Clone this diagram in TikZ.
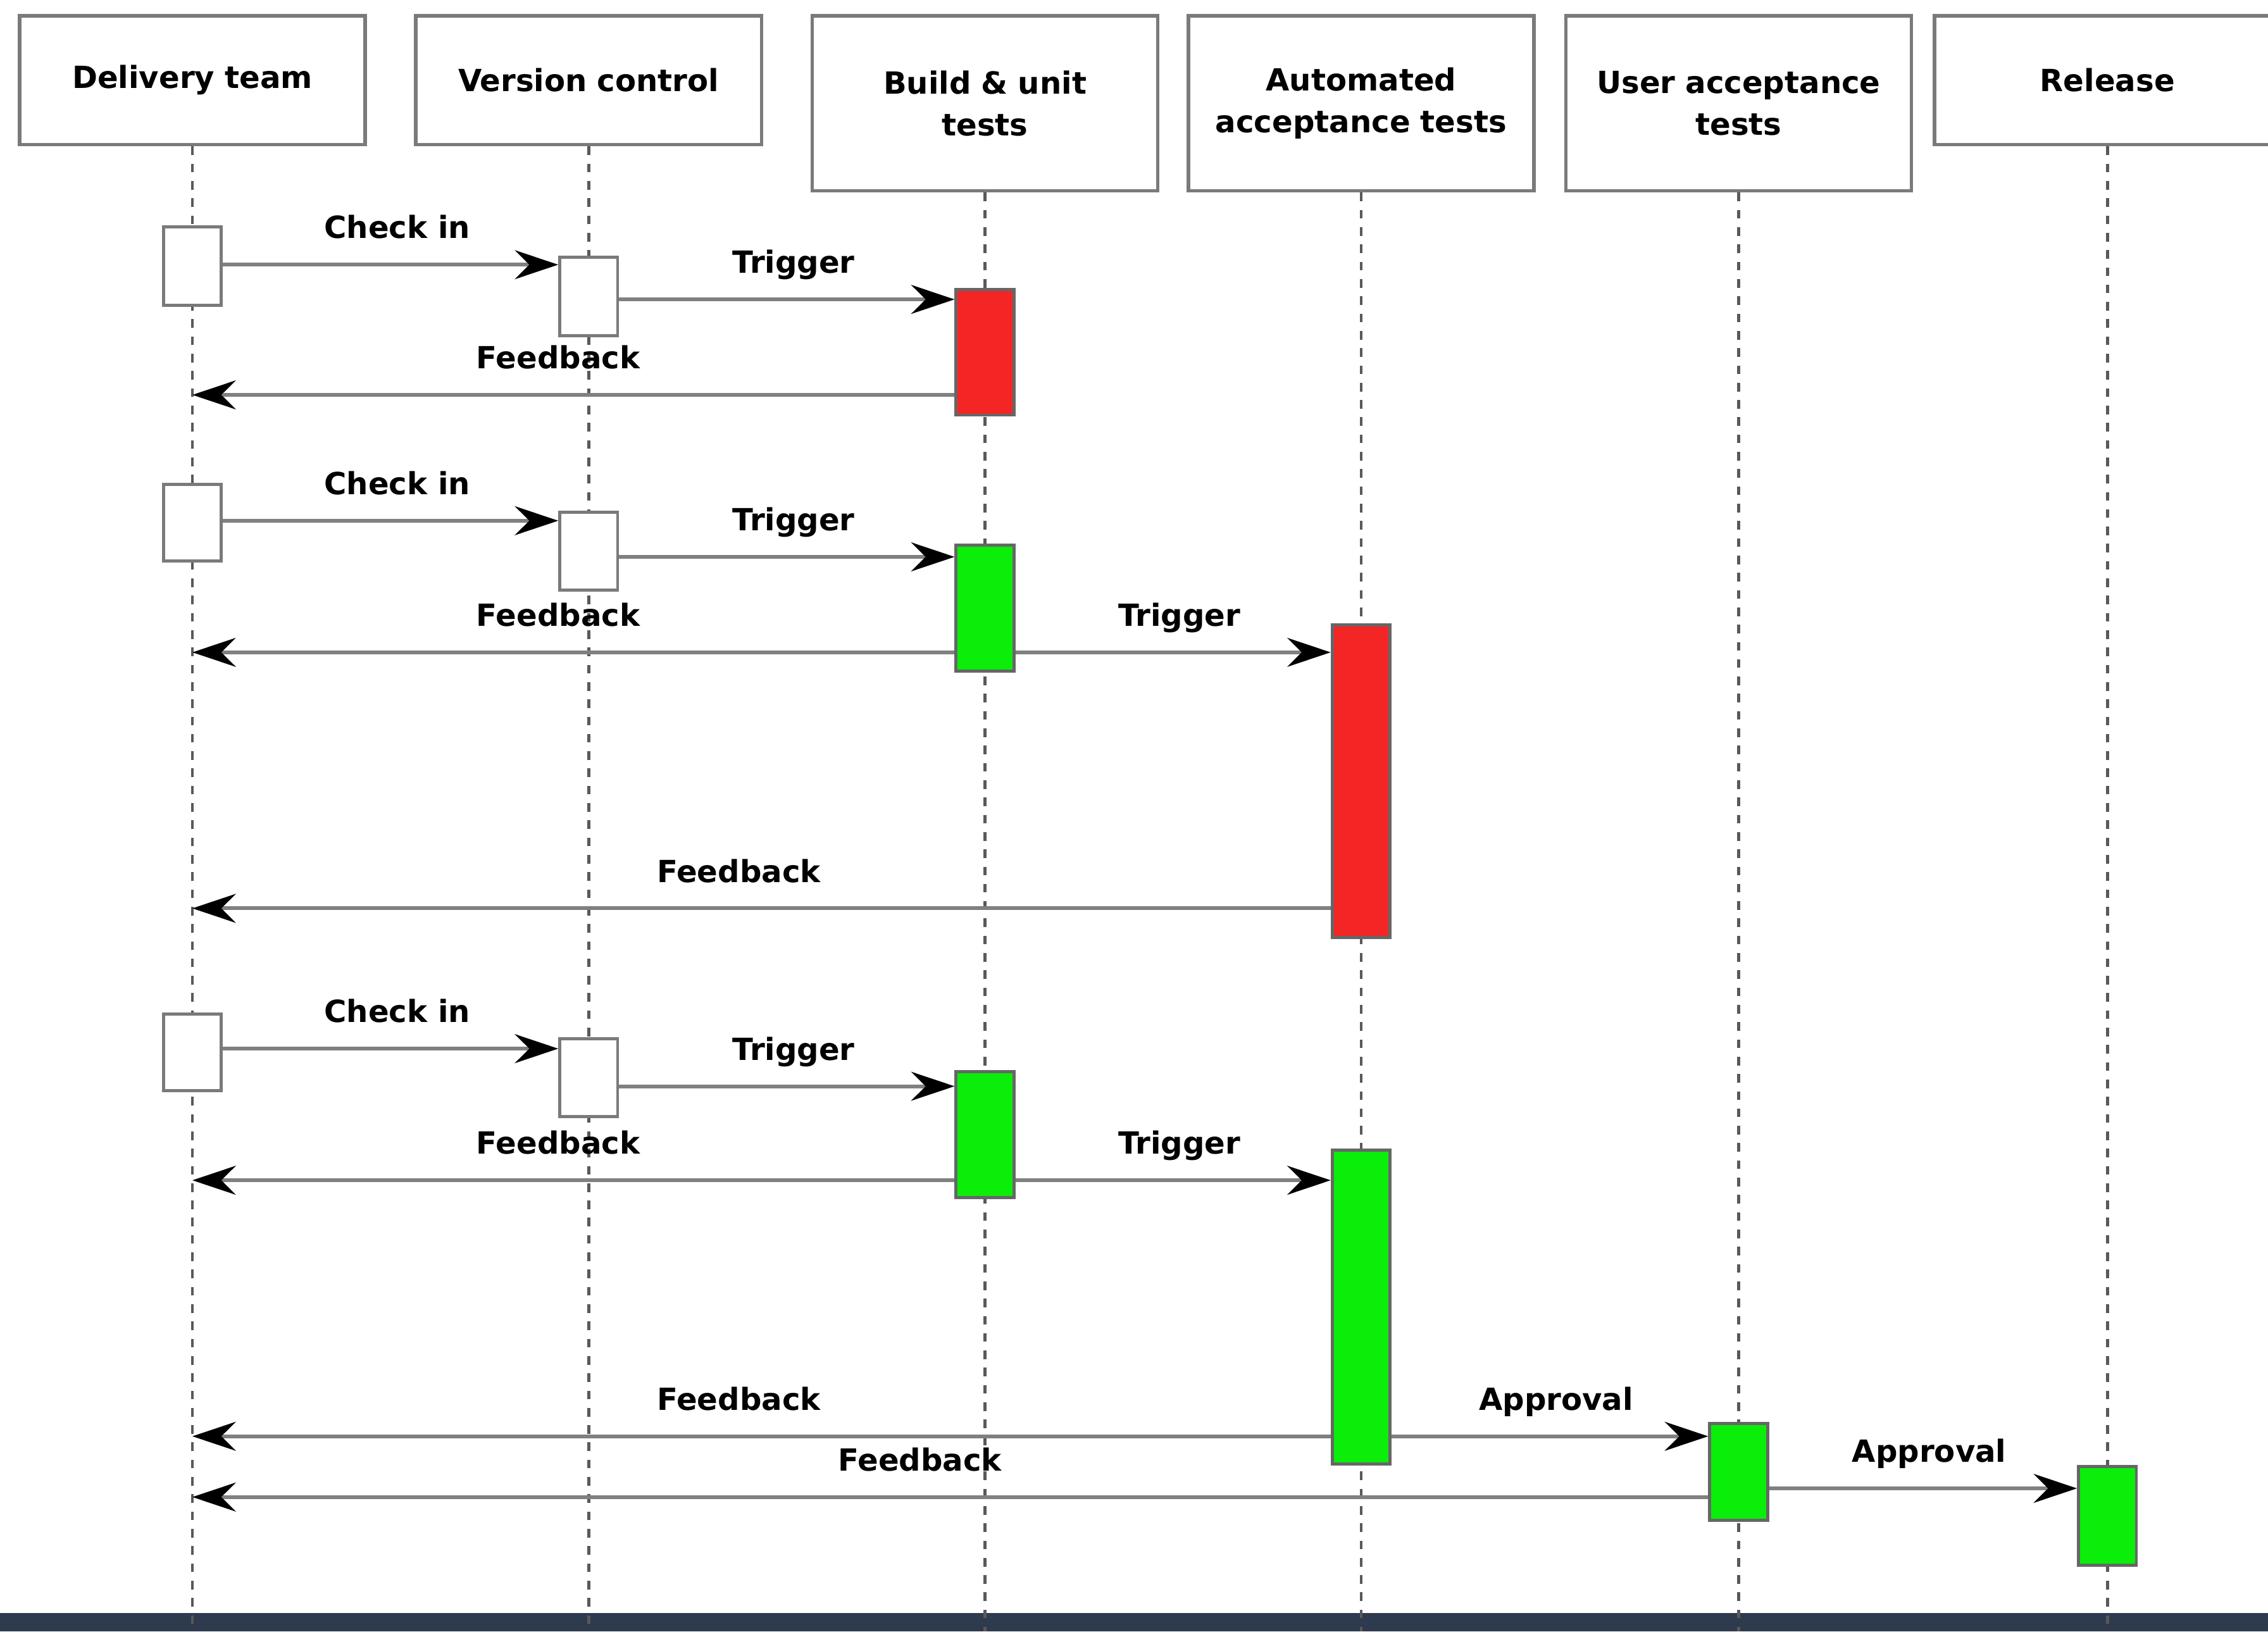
\documentclass[tikz,border=0pt]{standalone}
\usepackage{fontspec}
\setmainfont{DejaVu Sans}
\usetikzlibrary{arrows.meta,positioning}

\definecolor{boxgray}{HTML}{7A7A7A}
\definecolor{failred}{HTML}{F42525}
\definecolor{passgreen}{HTML}{0AEE0A}
\definecolor{bardark}{HTML}{2E3A4E}

\begin{document}
\begin{tikzpicture}
      [x=0.02cm, y=-0.02cm,
      stage/.style={draw=boxgray, line width=1.4pt, fill=white, minimum width=4.78cm,
        text width=4.6cm, align=center, inner sep=0pt,
        font=\bfseries\fontsize{12}{16.4}\selectfont},
      act/.style={draw=boxgray, line width=1.2pt, fill=white, minimum width=0.8cm, inner sep=0pt},
      actfail/.style={act, fill=failred, draw=black!60},
      actok/.style={act, fill=passgreen, draw=black!60},
      life/.style={black!65, line width=1.1pt, dash pattern=on 3.4pt off 3.4pt},
      msg/.style={draw=black!50, line width=1.5pt,
        -{Stealth[black, length=0.6cm, width=0.4cm, inset=0.2cm]}},
      lbl/.style={above=0.23cm, inner sep=0pt, text height=9pt, text depth=3pt,
        font=\bfseries\fontsize{12}{14}\selectfont, pos=0.52},
      ]
      \clip (0,0) rectangle (1568,1128);
      \fill[white] (0,0) rectangle (1568,1128);
      \fill[bardark] (0,1115) rectangle (1568,1128);
      \coordinate (bot) at (0,1128);

      % lanes
      \node[stage, minimum height=1.78cm] (dt) at (133,55.5) {Delivery team};
      \node[stage, minimum height=1.78cm] (vc) at (407,55.5) {Version control};
      \node[stage, minimum height=2.42cm] (bu) at (681,71.5) {Build \& unit\\tests};
      \node[stage, minimum height=2.42cm] (aa) at (941,71.5) {Automated\\acceptance tests};
      \node[stage, minimum height=2.42cm] (ua) at (1202,71.5) {User acceptance\\tests};
      \node[stage, minimum height=1.78cm] (re) at (1457,55.5) {Release};

      \foreach \s in {dt,vc,bu,aa,ua,re}
        \draw[life] (\s.south) -- (\s.south |- bot);

      % first run: unit tests fail
      \node[act, minimum height=1.08cm] (dt1) at (133,184) {};
      \node[act, minimum height=1.08cm] (vc1) at (407,205) {};
      \node[actfail, minimum height=1.74cm] (bu1) at (681,243.5) {};

      \draw[msg] (dt1.east |- 0,183) -- (vc1.west |- 0,183) node[lbl]{Check in};
      \draw[msg] (vc1.east |- 0,207) -- (bu1.west |- 0,207) node[lbl]{Trigger};
      \draw[msg] (bu1.west |- 0,273) -- (dt |- 0,273) node[lbl]{Feedback};

      % second run: acceptance tests fail
      \node[act, minimum height=1.06cm] (dt2) at (133,361.5) {};
      \node[act, minimum height=1.08cm] (vc2) at (407,381) {};
      \node[actok, minimum height=1.74cm] (bu2) at (681,420.5) {};
      \node[actfail, minimum height=4.32cm] (aa2) at (941,540) {};

      \draw[msg] (dt2.east |- 0,360) -- (vc2.west |- 0,360) node[lbl]{Check in};
      \draw[msg] (vc2.east |- 0,385) -- (bu2.west |- 0,385) node[lbl]{Trigger};
      \draw[msg] (bu2.west |- 0,451) -- (dt |- 0,451) node[lbl]{Feedback};
      \draw[msg] (bu2.east |- 0,451) -- (aa2.west |- 0,451) node[lbl]{Trigger};
      \draw[msg] (aa2.west |- 0,628) -- (dt |- 0,628) node[lbl]{Feedback};

      % third run: released
      \node[act, minimum height=1.06cm] (dt3) at (133,727.5) {};
      \node[act, minimum height=1.08cm] (vc3) at (407,745) {};
      \node[actok, minimum height=1.74cm] (bu3) at (681,784.5) {};
      \node[actok, minimum height=4.34cm] (aa3) at (941,903.5) {};
      \node[actok, minimum height=1.34cm] (ua3) at (1202,1017.5) {};
      \node[actok, minimum height=1.36cm] (re3) at (1457,1048) {};

      \draw[msg] (dt3.east |- 0,725) -- (vc3.west |- 0,725) node[lbl]{Check in};
      \draw[msg] (vc3.east |- 0,751) -- (bu3.west |- 0,751) node[lbl]{Trigger};
      \draw[msg] (bu3.west |- 0,816) -- (dt |- 0,816) node[lbl]{Feedback};
      \draw[msg] (bu3.east |- 0,816) -- (aa3.west |- 0,816) node[lbl]{Trigger};
      \draw[msg] (aa3.west |- 0,993) -- (dt |- 0,993) node[lbl]{Feedback};
      \draw[msg] (aa3.east |- 0,993) -- (ua3.west |- 0,993) node[lbl]{Approval};
      \draw[msg] (ua3.west |- 0,1035) -- (dt |- 0,1035) node[lbl]{Feedback};
      \draw[msg] (ua3.east |- 0,1029) -- (re3.west |- 0,1029) node[lbl]{Approval};
    \end{tikzpicture}
\end{document}
